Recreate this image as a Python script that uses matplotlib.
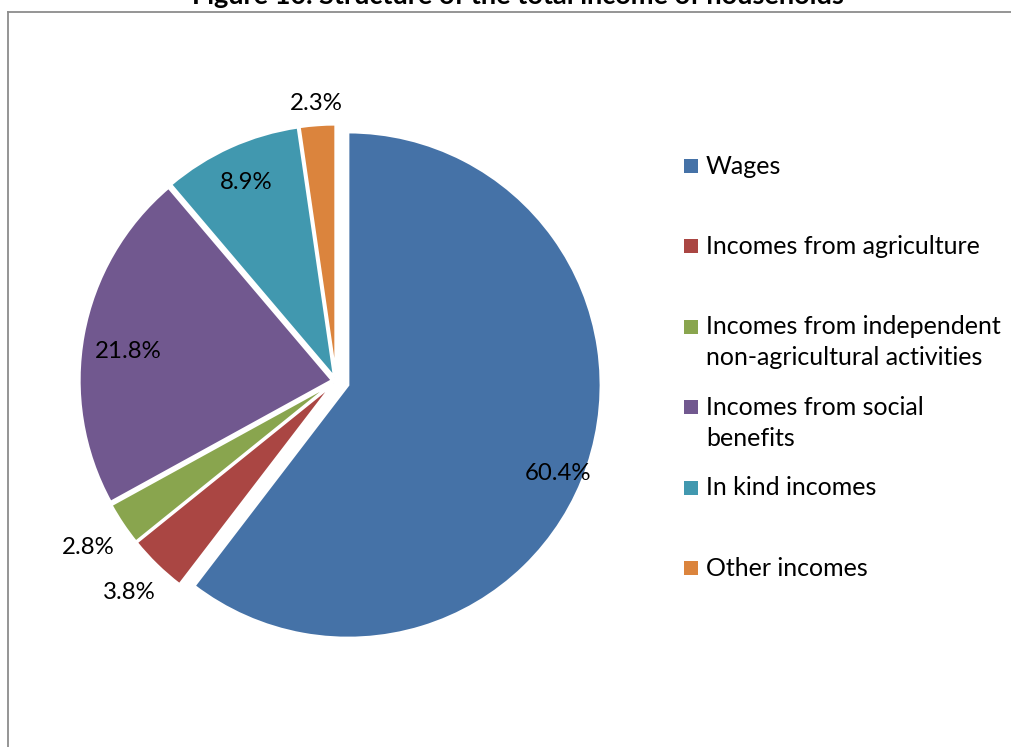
import matplotlib
matplotlib.use("Agg")
import matplotlib.pyplot as plt
import numpy as np
from matplotlib.patches import Rectangle
from matplotlib.lines import Line2D

# ---- data ----
categories = ["Wages", "Incomes from agriculture",
              "Incomes from independent non-agricultural activities",
              "Incomes from social benefits", "In kind incomes", "Other incomes"]
values = [60.4, 3.8, 2.8, 21.8, 8.9, 2.3]
legend_labels = ["Wages", "Incomes from agriculture",
                 "Incomes from independent\nnon-agricultural activities",
                 "Incomes from social\nbenefits", "In kind incomes", "Other incomes"]
title = "Figure 10. Structure of the total income of households"

# ---- style ----
colors = ["#4572A7", "#AA4643", "#89A54E", "#71588F", "#4198AF", "#DB843D"]
explode = [0.05, 0.015, 0.015, 0.015, 0.015, 0.015]
label_r = [0.95, 1.17, 1.18, 0.83, 0.86, 1.10]
label_dang = [-3.8, 0, 0, 2.5, 0, 0]
FONT = "Lato"
FS = 17.3
FS_LEG = 18

W, H = 1011, 747
fig = plt.figure(figsize=(W / 100, H / 100), dpi=100)
fig.patch.set_facecolor("white")

cx, cy, R = 336, 381, 253
L = 1.3
ax = fig.add_axes([(cx - L * R) / W, 1 - (cy + L * R) / H, 2 * L * R / W, 2 * L * R / H])
wedges, _ = ax.pie(values, colors=colors, startangle=90, counterclock=False,
                   explode=explode, radius=1,
                   wedgeprops=dict(edgecolor="white", linewidth=2))
ax.set_xlim(-L, L)
ax.set_ylim(-L, L)
ax.axis("off")

for w, v, r, da in zip(wedges, values, label_r, label_dang):
    ang = np.deg2rad((w.theta1 + w.theta2) / 2 + da)
    ax.text(r * np.cos(ang), r * np.sin(ang), f"{v:.1f}%", ha="center", va="center",
            fontsize=FS, family=FONT, color="black")

# ---- legend (manual) ----
leg_x, leg_y0, leg_step, line_step = 684, 166, 80.4, 31
sq = 14
for i, (lab, col) in enumerate(zip(legend_labels, colors)):
    yc = leg_y0 + i * leg_step
    fig.add_artist(Rectangle(((leg_x) / W, 1 - (yc + sq / 2) / H), sq / W, sq / H,
                             transform=fig.transFigure, facecolor=col, edgecolor="none"))
    for j, line in enumerate(lab.split("\n")):
        fig.text((leg_x + 22) / W, 1 - (yc + j * line_step) / H, line, ha="left", va="center",
                 fontsize=FS_LEG, family=FONT, color="black")

# ---- frame & title ----
fig.add_artist(Line2D([8 / W, 8 / W], [1 - 12 / H, 0], transform=fig.transFigure,
                      color="#8c8c8c", lw=1.3))
fig.add_artist(Line2D([8 / W, 1], [1 - 12 / H, 1 - 12 / H], transform=fig.transFigure,
                      color="#8c8c8c", lw=1.3))
fig.text(518 / W, 1 - 4 / H, title, ha="center", va="baseline", fontsize=19.5,
         fontweight="bold", family=FONT, color="black")

fig.savefig("out.png", dpi=100, facecolor="white")
